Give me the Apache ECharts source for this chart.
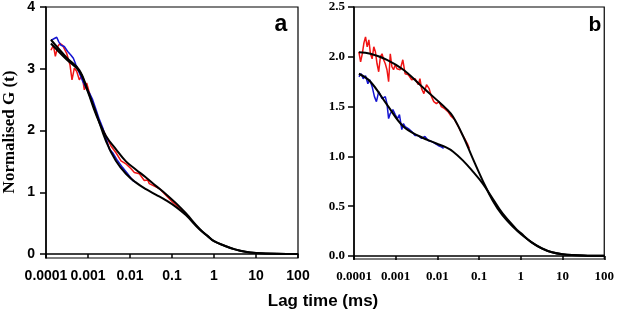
<!DOCTYPE html>
<html>
<head>
<meta charset="utf-8">
<script src="https://cdn.jsdelivr.net/npm/echarts@6/dist/echarts.min.js"></script>
<style>
  html, body { margin: 0; padding: 0; background: #fff; }
  #chart { width: 617px; height: 314px; }
</style>
</head>
<body>
<div id="chart"></div>
<script>
// axis ticks
const xTickLags = [0.0001, 0.001, 0.01, 0.1, 1, 10, 100]
const xTickLabels = ['0.0001', '0.001', '0.01', '0.1', '1', '10', '100']
const yTicksA = [0, 1, 2, 3, 4]
const yTicksB = [0, 0.5, 1, 1.5, 2, 2.5]

// panel a - measured curves (lag time in ms, normalised G)
const aRedLag = [1.31e-4, 1.50e-4, 1.67e-4, 1.90e-4, 2.15e-4, 2.49e-4, 2.73e-4, 3.10e-4, 3.73e-4, 4.16e-4,
  4.73e-4, 5.37e-4, 6.22e-4, 7.20e-4, 8.18e-4, 9.29e-4, 1.08e-3, 1.25e-3, 1.42e-3, 1.61e-3,
  1.86e-3, 2.15e-3, 2.68e-3, 3.53e-3, 4.64e-3, 6.11e-3, 8.03e-3, 1.06e-2, 1.27e-2, 1.67e-2,
  2.19e-2, 2.63e-2, 2.88e-2, 4.99e-2, 0.104, 0.150, 0.259]
const aRedG = [3.30, 3.38, 3.20, 3.36, 3.41, 3.38, 3.41, 3.25, 3.06, 2.82,
  3.01, 2.96, 2.82, 2.90, 2.66, 2.77, 2.61, 2.47, 2.34, 2.26,
  2.15, 2.05, 1.91, 1.75, 1.64, 1.51, 1.46, 1.38, 1.32, 1.30,
  1.19, 1.20, 1.14, 1.06, 0.84, 0.75, 0.60]
const aBlueLag = [1.31e-4, 1.58e-4, 1.80e-4, 2.00e-4, 2.28e-4, 2.73e-4, 3.28e-4, 3.94e-4, 4.48e-4, 5.18e-4,
  6.22e-4, 7.46e-4, 8.96e-4, 1.08e-3, 1.29e-3, 1.55e-3, 1.86e-3, 2.23e-3, 2.68e-3, 3.22e-3,
  3.87e-3, 5.08e-3, 6.68e-3, 8.79e-3, 1.16e-2, 1.39e-2]
const aBlueG = [3.46, 3.49, 3.51, 3.44, 3.38, 3.36, 3.28, 3.22, 3.17, 3.06,
  2.93, 2.80, 2.69, 2.61, 2.50, 2.34, 2.18, 2.05, 1.88, 1.70,
  1.64, 1.51, 1.40, 1.30, 1.19, 1.16]

// panel a - fits
const aFitLag = [1.31e-4, 3.1e-4, 6.2e-4, 1.0e-3, 1.55e-3, 2.68e-3, 4.6e-3, 8.0e-3, 1.37e-2, 2.4e-2,
  4.2e-2, 7.2e-2, 0.126, 0.214, 0.45, 0.71, 1, 1.78, 3.16, 5.6, 10, 31.6, 100]
const aFitRedG = [3.41, 3.15, 2.96, 2.62, 2.26, 1.91, 1.70, 1.50, 1.37, 1.24,
  1.10, 0.97, 0.82, 0.66, 0.41, 0.29, 0.21, 0.135, 0.075, 0.036, 0.018, 0.005, 0.002]
const aFitBlueG = [3.47, 3.18, 2.98, 2.64, 2.29, 1.83, 1.51, 1.30, 1.16, 1.05,
  0.96, 0.87, 0.76, 0.63, 0.40, 0.29, 0.21, 0.135, 0.075, 0.036, 0.018, 0.005, 0.002]

// panel b - measured curves
const bRedLag = [1.31e-4, 1.44e-4, 1.58e-4, 1.73e-4, 1.89e-4, 2.07e-4, 2.27e-4, 2.48e-4, 2.72e-4, 2.98e-4,
  3.26e-4, 3.57e-4, 3.91e-4, 4.29e-4, 4.70e-4, 5.14e-4, 5.63e-4, 6.17e-4, 6.76e-4, 7.41e-4,
  8.11e-4, 8.88e-4, 9.73e-4, 1.07e-3, 1.28e-3, 1.48e-3, 1.68e-3, 2.01e-3, 2.42e-3, 2.90e-3,
  3.48e-3, 3.81e-3, 4.17e-3, 4.74e-3, 5.48e-3, 6.34e-3, 7.21e-3, 8.19e-3, 9.46e-3, 1.10e-2,
  1.24e-2, 1.49e-2, 1.79e-2, 2.15e-2, 2.58e-2, 3.09e-2, 3.71e-2, 4.45e-2, 5.34e-2, 5.84e-2]
const bRedG = [2.05, 1.95, 2.03, 2.14, 2.20, 2.10, 2.17, 2.03, 1.98, 2.10,
  2.05, 1.93, 1.85, 2.00, 2.03, 1.97, 1.93, 1.87, 1.75, 2.03,
  1.90, 1.87, 1.92, 1.88, 1.87, 1.97, 1.83, 1.82, 1.77, 1.78,
  1.72, 1.78, 1.68, 1.63, 1.72, 1.68, 1.60, 1.55, 1.53, 1.55,
  1.50, 1.48, 1.45, 1.40, 1.37, 1.31, 1.24, 1.18, 1.12, 1.08]
const bBlueLag = [1.31e-4, 1.49e-4, 1.66e-4, 1.89e-4, 2.15e-4, 2.39e-4, 2.72e-4, 3.09e-4, 3.45e-4, 3.91e-4,
  4.29e-4, 4.70e-4, 5.14e-4, 5.63e-4, 6.17e-4, 6.76e-4, 7.41e-4, 8.57e-4, 9.73e-4, 1.10e-3,
  1.23e-3, 1.40e-3, 1.53e-3, 1.68e-3, 2.01e-3, 2.42e-3, 2.90e-3, 3.48e-3, 4.17e-3, 5.01e-3,
  6.01e-3, 7.21e-3, 8.65e-3, 1.04e-2, 1.18e-2, 1.31e-2, 1.41e-2]
const bBlueG = [1.80, 1.83, 1.78, 1.81, 1.73, 1.77, 1.70, 1.60, 1.55, 1.65,
  1.63, 1.58, 1.57, 1.60, 1.53, 1.38, 1.43, 1.47, 1.42, 1.38,
  1.42, 1.27, 1.33, 1.30, 1.28, 1.25, 1.21, 1.21, 1.18, 1.20,
  1.16, 1.15, 1.13, 1.11, 1.10, 1.11, 1.08]

// panel b - fits
const bFitLag = [1.31e-4, 2.48e-4, 6.17e-4, 1.53e-3, 3.81e-3, 9.46e-3, 1.62e-2, 2.35e-2, 4.06e-2, 7.02e-2,
  0.121, 0.209, 0.361, 0.74, 1, 1.78, 3.16, 5.6, 10, 31.6, 100]
const bFitRedG = [2.045, 2.03, 1.97, 1.87, 1.72, 1.57, 1.48, 1.40, 1.21, 0.98,
  0.76, 0.56, 0.41, 0.27, 0.22, 0.14, 0.077, 0.037, 0.018, 0.005, 0.002]
const bFitBlueG = [1.83, 1.75, 1.52, 1.30, 1.20, 1.13, 1.09, 1.05, 0.96, 0.85,
  0.73, 0.58, 0.43, 0.28, 0.23, 0.14, 0.078, 0.037, 0.018, 0.005, 0.002]

const RED = '#f01414'
const BLUE = '#1414d2'
const SANS = 'Arial, "Liberation Sans", sans-serif'
const SERIF = '"Times New Roman", "Liberation Serif", serif'

const pairs = (xs, ys) => xs.map((x, i) => [x, ys[i]])

const xAxisFor = (gridIndex, font, size, margin) => ({
  type: 'log',
  logBase: 10,
  gridIndex,
  min: 0.0001,
  max: 100,
  axisLine: { lineStyle: { color: '#000', width: 1.5 } },
  axisTick: { length: 4, customValues: xTickLags, lineStyle: { color: '#000', width: 1.5 } },
  axisLabel: {
    customValues: xTickLags,
    margin,
    color: '#000',
    fontFamily: font,
    fontWeight: 'bold',
    fontSize: size,
    formatter: (v) => {
      const i = xTickLags.findIndex(t => Math.abs(Math.log10(t / v)) < 0.01)
      return i >= 0 ? xTickLabels[i] : ''
    }
  },
  splitLine: { show: false },
  minorTick: { show: false }
})

const lineSeries = (name, xi, data, color, width, smooth) => ({
  name,
  type: 'line',
  xAxisIndex: xi,
  yAxisIndex: xi,
  data,
  showSymbol: false,
  smooth,
  lineStyle: { color, width },
  silent: true
})

const chart = echarts.init(document.getElementById('chart'))

chart.setOption({
  animation: false,
  backgroundColor: '#fff',
  grid: [
    { left: 46, right: 319, top: 5, bottom: 56, show: true, borderColor: '#000', borderWidth: 1.2, backgroundColor: 'transparent' },
    { left: 354, right: 10, top: 7, bottom: 55, show: true, borderColor: '#000', borderWidth: 1.2, backgroundColor: 'transparent' }
  ],
  xAxis: [
    xAxisFor(0, SANS, 14, 11),
    xAxisFor(1, SERIF, 13, 11)
  ],
  yAxis: [
    {
      type: 'value',
      gridIndex: 0,
      min: -0.064,
      max: 4,
      axisLine: { show: true, lineStyle: { color: '#000', width: 1.5 } },
      axisTick: { show: true, length: 6, customValues: yTicksA, lineStyle: { color: '#000', width: 1.5 } },
      axisLabel: {
        customValues: yTicksA,
        margin: 11,
        color: '#000',
        fontFamily: SANS,
        fontWeight: 'bold',
        fontSize: 14,
        formatter: (v) => String(Math.round(v))
      },
      splitLine: { show: false }
    },
    {
      type: 'value',
      gridIndex: 1,
      min: -0.03,
      max: 2.5,
      axisLine: { show: true, lineStyle: { color: '#000', width: 1.5 } },
      axisTick: { show: true, length: 6, customValues: yTicksB, lineStyle: { color: '#000', width: 1.5 } },
      axisLabel: {
        customValues: yTicksB,
        margin: 9,
        color: '#000',
        fontFamily: SERIF,
        fontWeight: 'bold',
        fontSize: 13,
        formatter: (v) => v.toFixed(1)
      },
      splitLine: { show: false }
    }
  ],
  graphic: [
    {
      type: 'text',
      x: 1,
      y: 132,
      rotation: Math.PI / 2,
      style: {
        text: 'Normalised G (t)',
        font: 'bold 17px ' + SERIF,
        fill: '#000',
        align: 'center',
        verticalAlign: 'top'
      }
    },
    {
      type: 'text',
      x: 323,
      y: 301,
      style: {
        text: 'Lag time (ms)',
        font: 'bold 17px ' + SANS,
        fill: '#000',
        align: 'center',
        verticalAlign: 'middle'
      }
    },
    {
      type: 'text',
      x: 281,
      y: 25,
      style: { text: 'a', font: 'bold 23px ' + SANS, fill: '#000', align: 'center', verticalAlign: 'middle' }
    },
    {
      type: 'text',
      x: 595,
      y: 25,
      style: { text: 'b', font: 'bold 21px ' + SANS, fill: '#000', align: 'center', verticalAlign: 'middle' }
    }
  ],
  series: [
    lineSeries('a red', 0, pairs(aRedLag, aRedG), RED, 1.5, false),
    lineSeries('a blue', 0, pairs(aBlueLag, aBlueG), BLUE, 1.5, false),
    lineSeries('a fit red', 0, pairs(aFitLag, aFitRedG), '#000', 2, 0.4),
    lineSeries('a fit blue', 0, pairs(aFitLag, aFitBlueG), '#000', 2, 0.4),
    lineSeries('b red', 1, pairs(bRedLag, bRedG), RED, 1.5, false),
    lineSeries('b blue', 1, pairs(bBlueLag, bBlueG), BLUE, 1.5, false),
    lineSeries('b fit red', 1, pairs(bFitLag, bFitRedG), '#000', 2, 0.4),
    lineSeries('b fit blue', 1, pairs(bFitLag, bFitBlueG), '#000', 2, 0.4)
  ]
})
</script>
</body>
</html>
